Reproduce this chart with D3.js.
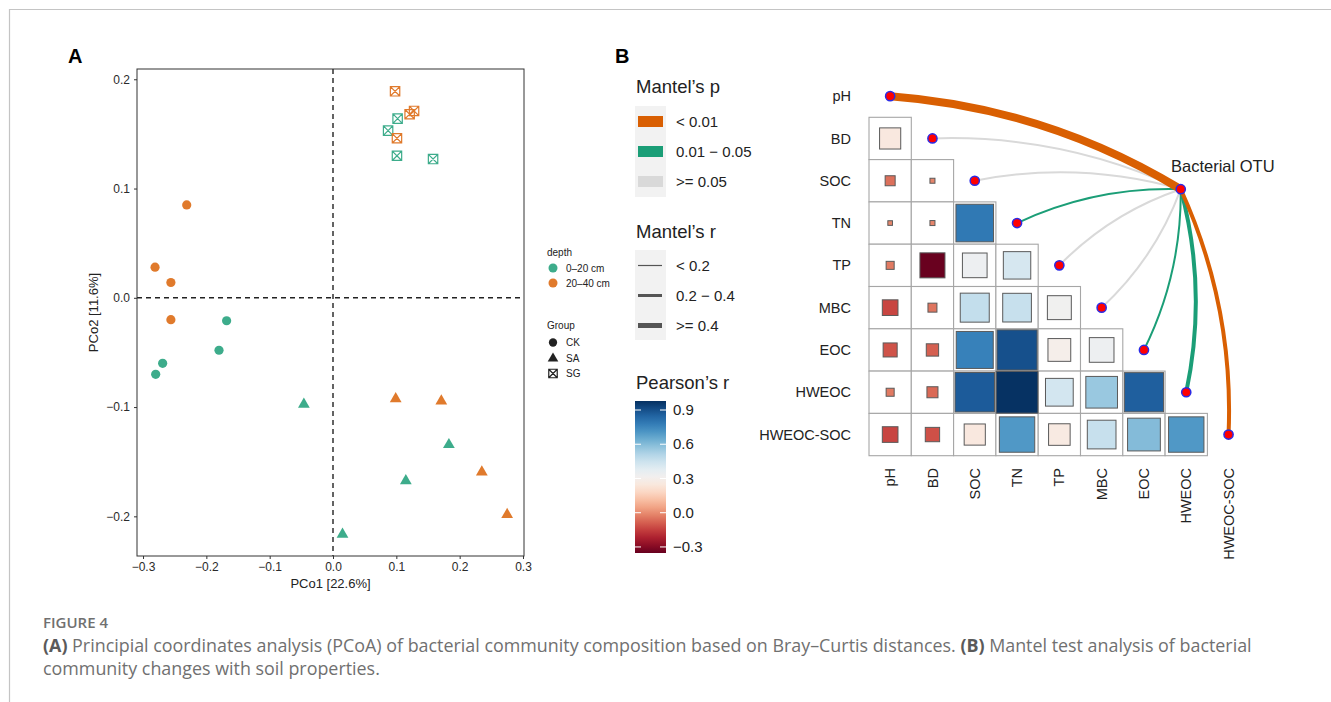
<!DOCTYPE html>
<html>
<head>
<meta charset="utf-8">
<script src="https://cdn.jsdelivr.net/npm/d3@7"></script>
<style>
  body { margin: 0; background: #fff; }
  svg { display: block; font-family: "Liberation Sans", Arial, sans-serif; }
</style>
</head>
<body>
<svg id="fig" width="1331" height="702"></svg>
<script>
// ---------- panel A : PCoA scores ----------
const pc1 = [-0.168, -0.180, -0.269, -0.280,  -0.231, -0.281, -0.256, -0.256,
             -0.046,  0.015,  0.115,  0.183,   0.099,  0.171,  0.235,  0.275,
              0.102,  0.087,  0.101,  0.158,   0.098,  0.128,  0.121,  0.101];
const pc2 = [-0.021, -0.048, -0.060, -0.070,   0.085,  0.028,  0.014, -0.020,
             -0.097, -0.216, -0.167, -0.134,  -0.092, -0.094, -0.159, -0.198,
              0.164,  0.153,  0.130,  0.127,   0.189,  0.171,  0.168,  0.146];
const depth = [0,0,0,0, 1,1,1,1, 0,0,0,0, 1,1,1,1, 0,0,0,0, 1,1,1,1];
const group = ["CK","CK","CK","CK","CK","CK","CK","CK",
               "SA","SA","SA","SA","SA","SA","SA","SA",
               "SG","SG","SG","SG","SG","SG","SG","SG"];
const depthLevels = ["0\u201320 cm", "20\u201340 cm"];
const groupLevels = ["CK", "SA", "SG"];
const xTicksA = [-0.3, -0.2, -0.1, 0, 0.1, 0.2, 0.3];
const yTicksA = [-0.2, -0.1, 0, 0.1, 0.2];

// ---------- panel B : Pearson matrix + Mantel test ----------
const vars = ["pH", "BD", "SOC", "TN", "TP", "MBC", "EOC", "HWEOC", "HWEOC-SOC"];
// lower triangle, row i holds r with columns 0..i-1
const pearson = [
  [],
  [0.25],
  [-0.056, -0.014],
  [-0.012, -0.014, 0.79],
  [-0.036, -0.35, 0.34, 0.42],
  [-0.137, -0.045, 0.47, 0.46, 0.32],
  [-0.11, -0.085, 0.765, 0.90, 0.29, 0.34],
  [-0.036, -0.068, 0.87, 0.975, 0.43, 0.56, 0.86],
  [-0.137, -0.115, 0.25, 0.70, 0.26, 0.46, 0.60, 0.70]
];
const pLevels = ["< 0.01", "0.01 \u2212 0.05", ">= 0.05"];
const rLevels = ["< 0.2", "0.2 \u2212 0.4", ">= 0.4"];
// Mantel class of each variable vs Bacterial OTU (index into the levels)
const mantelP = [0, 2, 2, 1, 2, 2, 1, 1, 0];
const mantelR = [2, 0, 0, 0, 0, 0, 0, 1, 1];
const pearsonTicks = [-0.3, 0, 0.3, 0.6, 0.9];
const pearsonRange = [-0.353, 0.979];

const green = "#3DAC8B", orange = "#E07A2C";
const pColors = ["#D95F02", "#1B9E77", "#D9D9D9"];
const rWidths = [2, 4, 8];
const rKeyWidths = [1.2, 3, 5];

const svg = d3.select("#fig");
const fmt = d3.format(".1f");

// frame lines of the figure box
svg.append("path").attr("d", "M9.5,702V9.5H1331").attr("fill", "none")
  .attr("stroke", "#c4c4c4").attr("stroke-width", 1.2);

// ================= Panel A =================
const pa = {left: 137, top: 69, right: 524, bottom: 556};
const x = d3.scaleLinear().domain([-0.3095, 0.3016]).range([pa.left, pa.right]);
const y = d3.scaleLinear().domain([-0.2363, 0.2094]).range([pa.bottom, pa.top]);

const gA = svg.append("g");
gA.append("text").attr("x", 68).attr("y", 63).attr("font-size", 20)
  .attr("font-weight", "bold").text("A");

function styleAxis(g) {
  g.attr("font-size", null).attr("font-family", null);
  g.select(".domain").remove();
  g.selectAll(".tick line").attr("stroke", "#333");
  g.selectAll(".tick text").attr("font-size", 12).attr("fill", "#2a2a2a");
}
gA.append("g").attr("transform", `translate(0,${pa.bottom})`)
  .call(d3.axisBottom(x).tickValues(xTicksA).tickFormat(fmt).tickSize(3).tickPadding(3))
  .call(styleAxis);
gA.append("g").attr("transform", `translate(${pa.left},0)`)
  .call(d3.axisLeft(y).tickValues(yTicksA).tickFormat(fmt).tickSize(3).tickPadding(4))
  .call(styleAxis);

gA.append("line").attr("x1", x(0)).attr("x2", x(0)).attr("y1", pa.top).attr("y2", pa.bottom)
  .attr("stroke", "#222").attr("stroke-width", 1.4).attr("stroke-dasharray", "5,4");
gA.append("line").attr("y1", y(0)).attr("y2", y(0)).attr("x1", pa.left).attr("x2", pa.right)
  .attr("stroke", "#222").attr("stroke-width", 1.4).attr("stroke-dasharray", "5,4");

gA.append("rect").attr("x", pa.left).attr("y", pa.top)
  .attr("width", pa.right - pa.left).attr("height", pa.bottom - pa.top)
  .attr("fill", "none").attr("stroke", "#333").attr("stroke-width", 1);

function drawShape(g, shape, cx, cy, col, scale) {
  const s = scale || 1;
  if (shape === "CK") {
    g.append("circle").attr("cx", cx).attr("cy", cy).attr("r", 4.6 * s).attr("fill", col);
  } else if (shape === "SA") {
    g.append("path").attr("transform", `translate(${cx},${cy + 0.5})`)
      .attr("d", d3.symbol(d3.symbolTriangle, 60 * s * s)()).attr("fill", col);
  } else {
    const h = 4.7 * s;
    g.append("path")
      .attr("d", `M${cx - h},${cy - h}h${2 * h}v${2 * h}h${-2 * h}Z` +
                 `M${cx - h},${cy - h}L${cx + h},${cy + h}M${cx + h},${cy - h}L${cx - h},${cy + h}`)
      .attr("fill", "none").attr("stroke", col).attr("stroke-width", 1.2);
  }
}
const pts = gA.append("g");
pc1.forEach((v, i) => drawShape(pts, group[i], x(v), y(pc2[i]), depth[i] ? orange : green));

gA.append("text").attr("x", (pa.left + pa.right) / 2).attr("y", 588)
  .attr("text-anchor", "middle").attr("font-size", 13).attr("fill", "#222").text("PCo1 [22.6%]");
gA.append("text").attr("transform", `translate(98,${(pa.top + pa.bottom) / 2}) rotate(-90)`)
  .attr("text-anchor", "middle").attr("font-size", 13).attr("fill", "#222").text("PCo2 [11.6%]");

// legend A
const lgA = gA.append("g").attr("font-size", 10).attr("fill", "#222");
lgA.append("text").attr("x", 547).attr("y", 256).text("depth");
depthLevels.forEach((d, i) => {
  lgA.append("circle").attr("cx", 553).attr("cy", 268 + i * 15).attr("r", 4.5)
    .attr("fill", i ? orange : green);
  lgA.append("text").attr("x", 566).attr("y", 268 + i * 15).attr("dy", "0.35em").text(d);
});
lgA.append("text").attr("x", 547).attr("y", 329).text("Group");
groupLevels.forEach((d, i) => {
  drawShape(lgA, d, 553, 342.5 + i * 15.5, "#222", 0.9);
  lgA.append("text").attr("x", 566).attr("y", 342.5 + i * 15.5).attr("dy", "0.35em").text(d);
});

// ================= Panel B =================
const gB = svg.append("g");
gB.append("text").attr("x", 615).attr("y", 63).attr("font-size", 20)
  .attr("font-weight", "bold").text("B");

const cell = 42.3;
const xb = d3.scaleBand().domain(vars).range([869, 869 + vars.length * cell]);
const yb = d3.scaleBand().domain(vars).range([75, 75 + vars.length * cell]);
const color = d3.scaleSequential(d3.interpolateRdBu).domain(pearsonRange);

const cells = [];
pearson.forEach((row, i) => row.forEach((r, j) => cells.push({row: vars[i], col: vars[j], r})));

gB.append("g").selectAll("rect").data(cells).join("rect")
  .attr("x", d => xb(d.col)).attr("y", d => yb(d.row))
  .attr("width", cell).attr("height", cell)
  .attr("fill", "#fff").attr("stroke", "#a6a6a6").attr("stroke-width", 1.1);

gB.append("g").selectAll("rect").data(cells).join("rect")
  .attr("x", d => xb(d.col) + (cell - cell * Math.sqrt(Math.abs(d.r))) / 2)
  .attr("y", d => yb(d.row) + (cell - cell * Math.sqrt(Math.abs(d.r))) / 2)
  .attr("width", d => cell * Math.sqrt(Math.abs(d.r)))
  .attr("height", d => cell * Math.sqrt(Math.abs(d.r)))
  .attr("fill", d => color(d.r)).attr("stroke", "#5a5a5a").attr("stroke-width", 1);

// axis labels of the matrix
gB.append("g").selectAll("text").data(vars).join("text")
  .attr("x", 851).attr("y", d => yb(d) + cell / 2).attr("dy", "0.35em")
  .attr("text-anchor", "end").attr("font-size", 14.5).attr("fill", "#222").text(d => d);
gB.append("g").selectAll("text").data(vars).join("text")
  .attr("transform", d => `translate(${xb(d) + cell / 2},468) rotate(-90)`)
  .attr("dy", "0.35em").attr("text-anchor", "end").attr("font-size", 14.5)
  .attr("fill", "#222").text(d => d);

// Mantel links
const src = {x: xb("HWEOC") + cell * 0.37, y: yb("SOC") + cell * 0.7};
const links = vars.map((v, i) => ({
  v, p: mantelP[i], r: mantelR[i],
  x: xb(v) + cell / 2, y: yb(v) + cell / 2
}));
function curve(d) {
  const dx = src.x - d.x, dy = src.y - d.y, L = Math.hypot(dx, dy);
  let nx = dy / L, ny = -dx / L;
  if (nx - ny < 0) { nx = -nx; ny = -ny; }
  const k = 0.12 * L;
  const cx = (d.x + src.x) / 2 + nx * k, cy = (d.y + src.y) / 2 + ny * k;
  const p = d3.path();
  p.moveTo(d.x, d.y);
  p.quadraticCurveTo(cx, cy, src.x, src.y);
  return p.toString();
}
gB.append("g").attr("fill", "none").selectAll("path")
  .data(links.slice().sort((a, b) => b.p - a.p)).join("path")
  .attr("d", curve).attr("stroke", d => pColors[d.p]).attr("stroke-width", d => rWidths[d.r]);

gB.append("g").selectAll("circle").data(links.concat([src])).join("circle")
  .attr("cx", d => d.x).attr("cy", d => d.y).attr("r", 4.6)
  .attr("fill", "#ff0000").attr("stroke", "#2a2ae6").attr("stroke-width", 1.5);
gB.append("text").attr("x", 1171).attr("y", 172).attr("font-size", 16.5)
  .attr("fill", "#222").text("Bacterial OTU");

// legends B
const lgB = gB.append("g").attr("fill", "#222");
lgB.append("text").attr("x", 636).attr("y", 93).attr("font-size", 18.5).text("Mantel\u2019s p");
lgB.append("rect").attr("x", 635).attr("y", 106).attr("width", 31).attr("height", 91).attr("fill", "#f2f2f2");
pLevels.forEach((d, i) => {
  lgB.append("rect").attr("x", 638).attr("y", 116 + i * 30).attr("width", 25).attr("height", 11)
    .attr("fill", pColors[i]);
  lgB.append("text").attr("x", 676).attr("y", 121.5 + i * 30).attr("dy", "0.35em")
    .attr("font-size", 15).text(d);
});
lgB.append("text").attr("x", 636).attr("y", 238).attr("font-size", 18.5).text("Mantel\u2019s r");
lgB.append("rect").attr("x", 635).attr("y", 250).attr("width", 31).attr("height", 90).attr("fill", "#f2f2f2");
rLevels.forEach((d, i) => {
  lgB.append("line").attr("x1", 638).attr("x2", 662).attr("y1", 265.5 + i * 30).attr("y2", 265.5 + i * 30)
    .attr("stroke", "#555").attr("stroke-width", rKeyWidths[i]);
  lgB.append("text").attr("x", 676).attr("y", 265.5 + i * 30).attr("dy", "0.35em")
    .attr("font-size", 15).text(d);
});
lgB.append("text").attr("x", 636).attr("y", 389).attr("font-size", 18.5).text("Pearson\u2019s r");
const cbY = d3.scaleLinear().domain(pearsonRange).range([553, 401]);
const grad = svg.append("defs").append("linearGradient").attr("id", "cb")
  .attr("x1", 0).attr("x2", 0).attr("y1", 1).attr("y2", 0);
d3.range(0, 1.0001, 0.05).forEach(t => grad.append("stop").attr("offset", t)
  .attr("stop-color", color(pearsonRange[0] + t * (pearsonRange[1] - pearsonRange[0]))));
lgB.append("rect").attr("x", 635).attr("y", 401).attr("width", 31).attr("height", 152).attr("fill", "url(#cb)");
pearsonTicks.forEach(t => {
  lgB.append("path").attr("d", `M635,${cbY(t)}h6M660,${cbY(t)}h6`).attr("stroke", "#fff").attr("stroke-width", 1);
  lgB.append("text").attr("x", 673).attr("y", cbY(t)).attr("dy", "0.35em").attr("font-size", 15).text(fmt(t));
});

// ================= caption =================
const cap = svg.append("g").attr("font-family", "'Open Sans', Lato, sans-serif").attr("fill", "#707070");
cap.append("text").attr("x", 43).attr("y", 628).attr("font-size", 15).attr("font-weight", 600).text("FIGURE 4");
const l1 = cap.append("text").attr("x", 43).attr("y", 652).attr("font-size", 17);
l1.append("tspan").attr("font-weight", 700).attr("fill", "#5a5a5a").text("(A)");
l1.append("tspan").text(" Principial coordinates analysis (PCoA) of bacterial community composition based on Bray\u2013Curtis distances. ");
l1.append("tspan").attr("font-weight", 700).attr("fill", "#5a5a5a").text("(B)");
l1.append("tspan").text(" Mantel test analysis of bacterial");
const l2 = cap.append("text").attr("x", 43).attr("y", 675).attr("font-size", 17)
  .text("community changes with soil properties.");
// fit caption to the width seen in the figure
const fs = 17 * 1210 / l1.node().getComputedTextLength();
l1.attr("font-size", fs); l2.attr("font-size", fs);
</script>
</body>
</html>
